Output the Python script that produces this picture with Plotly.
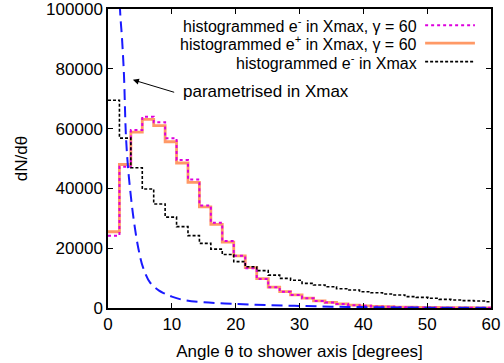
import plotly.graph_objects as go

# Bin left edges (degrees), bin width = 1/32 rad
bin_edges = [0.0, 1.79, 3.58, 5.37, 7.16, 8.95, 10.74, 12.53, 14.32, 16.11,
             17.9, 19.7, 21.5, 23.3, 25.1, 26.9, 28.6, 30.4, 32.2, 34.0,
             35.8, 37.6, 39.4, 41.2, 43.0, 44.8, 46.5, 48.3, 50.1, 51.9,
             53.7, 55.5, 57.3, 59.1, 60.9]

# histogrammed e- in Xmax, gamma = 60
e_minus_g60 = [24200, 47200, 59500, 64000, 62100, 56800, 49500, 43000, 34300, 28500,
               22400, 17500, 13300, 9700, 6900, 5450, 4350, 3250, 2340, 1800,
               1340, 950, 720, 520, 400, 300, 250, 200, 150, 120,
               100, 80, 60, 50]
# histogrammed e+ in Xmax, gamma = 60
e_plus_g60 = [25500, 48000, 58800, 63100, 61000, 55600, 48500, 42000, 33800, 28000,
              22000, 17400, 13500, 9800, 7000, 5500, 4400, 3300, 2400, 1850,
              1380, 980, 740, 540, 410, 310, 260, 210, 160, 125,
              105, 85, 65, 55]
# histogrammed e- in Xmax
e_minus = [69500, 56800, 46900, 39800, 34800, 30400, 27200, 24200, 21600, 19700,
           17900, 15500, 13800, 12500, 11000, 9900, 9300, 8250, 7700, 7100,
           6460, 6000, 5450, 5100, 4680, 4350, 3800, 3570, 3240, 2900,
           2680, 2450, 2340, 2100]

# parametrised in Xmax
param_theta = [1.6, 1.88, 2.2, 2.5, 2.8, 3.1, 3.45, 4.0, 4.75, 5.5, 6.6, 8.0, 8.9,
               10.0, 12.0, 15.0, 20.0, 25.0, 30.0, 35.0, 40.0, 45.0, 50.0, 55.0, 60.0]
param_val = [130000, 100000, 90000, 78000, 58000, 48000, 40000, 30000, 20000, 13500,
             8500, 5800, 4800, 3800, 2600, 1900, 1340, 950, 680, 450,
             300, 200, 120, 80, 50]


def step(vals):
    return bin_edges, vals + [vals[-1]]


fig = go.Figure()

x, y = step(e_plus_g60)
fig.add_trace(go.Scatter(x=x, y=y, mode="lines", line_shape="hv",
                         line=dict(color="#ff9966", width=2.8), showlegend=False))
x, y = step(e_minus_g60)
fig.add_trace(go.Scatter(x=x, y=y, mode="lines", line_shape="hv",
                         line=dict(color="#dd00dd", width=2, dash="dot"), showlegend=False))
x, y = step(e_minus)
fig.add_trace(go.Scatter(x=x, y=y, mode="lines", line_shape="hv",
                         line=dict(color="black", width=1.6, dash="3px,2px"), showlegend=False))
fig.add_trace(go.Scatter(x=param_theta, y=param_val, mode="lines", line_shape="spline",
                         line=dict(color="#1a1aff", width=2, dash="11px,6px"), showlegend=False))

font = dict(family="Liberation Sans, Arial, sans-serif", size=17, color="black")
leg_font = dict(family="Liberation Sans, Arial, sans-serif", size=16, color="black")

# Legend (text right-aligned, sample line to the right)
legend_items = [
    ("histogrammed e<sup>-</sup> in Xmax, γ = 60", dict(color="#dd00dd", width=2, dash="dot")),
    ("histogrammed e<sup>+</sup> in Xmax, γ = 60", dict(color="#ff9966", width=2.8)),
    ("histogrammed e<sup>-</sup> in Xmax", dict(color="black", width=1.6, dash="3px,2px")),
]
row_y = [0.946, 0.886, 0.824]
for (label, ln), ry in zip(legend_items, row_y):
    fig.add_annotation(xref="paper", yref="paper", x=0.81, y=ry, text=label,
                       showarrow=False, xanchor="right", yanchor="middle", font=leg_font,
                       borderpad=0)
    fig.add_shape(type="line", xref="paper", yref="paper", x0=0.828, x1=0.958,
                  y0=ry, y1=ry, line=ln)

# Arrow annotation
fig.add_annotation(x=3.9, y=76300, ax=10.6, ay=72000, axref="x", ayref="y",
                   text="", showarrow=True, arrowhead=2, arrowsize=1.2, arrowwidth=1,
                   arrowcolor="black")
fig.add_annotation(x=11.5, y=72300, text="parametrised in Xmax", showarrow=False,
                   xanchor="left", yanchor="middle", font=font)

fig.update_layout(
    width=504, height=363,
    margin=dict(l=108, r=13, t=9, b=55, autoexpand=False),
    paper_bgcolor="white", plot_bgcolor="white",
    font=font,
    showlegend=False,
)
fig.update_xaxes(range=[0, 60], dtick=10, ticks="inside", ticklen=5, tickcolor="black",
                 showline=True, linecolor="black", linewidth=1.5, mirror="ticks",
                 showgrid=False, zeroline=False, tickfont=font, automargin=False,
                 ticklabeloverflow="allow",
                 title=dict(text="Angle θ to shower axis [degrees]", font=font, standoff=12))
fig.update_yaxes(range=[0, 100000], dtick=20000, ticks="inside", ticklen=5, tickcolor="black",
                 showline=True, linecolor="black", linewidth=1.5, mirror="ticks",
                 showgrid=False, zeroline=False, tickfont=font, tickformat="d", automargin=False,
                 ticklabeloverflow="allow",
                 title=dict(text="dN/dθ", font=font, standoff=14))

fig.write_html("out.html")
